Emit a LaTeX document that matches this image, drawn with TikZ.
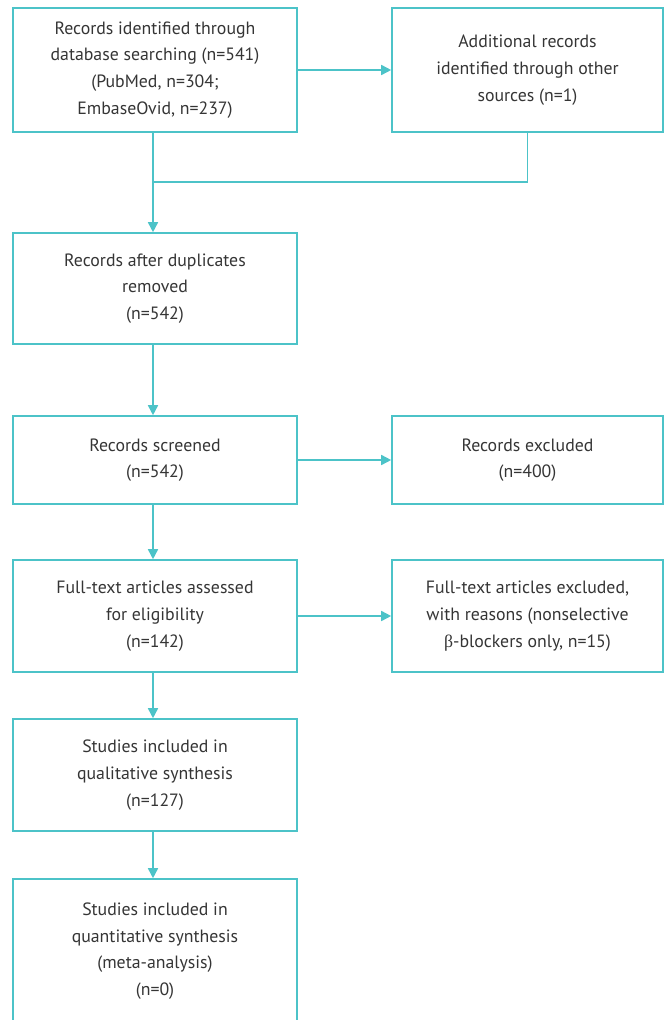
\documentclass[tikz,border=0pt]{standalone}
\usepackage{fontspec}
\setmainfont{PT Sans}
\newfontfamily\greekfont{Liberation Serif}
\usepackage{tikz}
\usetikzlibrary{arrows.meta}
\definecolor{teal}{HTML}{4CC3C8}
\definecolor{txt}{HTML}{353535}

\begin{document}
\begin{tikzpicture}[x=1pt, y=-1pt,
    box/.style={draw=teal, line width=1.6pt, inner sep=0pt, align=center,
        text=txt, font=\fontsize{17.8}{26.7}\selectfont},
    link/.style={draw=teal, line width=1.6pt},
    arr/.style={link, -{Triangle[length=10pt,width=10pt]}}]
            \useasboundingbox (0,0) rectangle (670,1020);
            \clip (0,0) rectangle (670,1020);

            \node[box, minimum width=284, minimum height=124] (db) at (155,70)
                {Records identified through\\database searching (n=541)\\(PubMed, n=304;\\EmbaseOvid, n=237)};
            \node[box, minimum width=271, minimum height=124] (other) at (527.5,70)
                {Additional records\\identified through other\\sources (n=1)};
            \node[box, minimum width=284, minimum height=111] (dup) at (155,288.5)
                {Records after duplicates\\removed\\(n=542)};
            \node[box, minimum width=284, minimum height=88] (screen) at (155,460)
                {Records screened\\(n=542)};
            \node[box, minimum width=271, minimum height=88] (excl) at (527.5,460)
                {Records excluded\\(n=400)};
            \node[box, minimum width=284, minimum height=112] (full) at (155,616)
                {Full-text articles assessed\\for eligibility\\(n=142)};
            \node[box, minimum width=271, minimum height=112] (fullex) at (527.5,616)
                {Full-text articles excluded,\\with reasons (nonselective\\{\greekfont β}-blockers only, n=15)};
            \node[box, minimum width=284, minimum height=112] (qual) at (155,775)
                {Studies included in\\qualitative synthesis\\(n=127)};
            \node[box, minimum width=284, minimum height=144] (quant) at (155,951)
                {Studies included in\\quantitative synthesis\\(meta-analysis)\\(n=0)};
            \coordinate (join) at (153,182);

            \draw[arr] (db) -- (other);
            \draw[link] (other.south) |- (join);
            \draw[arr] (db.south -| join) -- (dup.north -| join);
            \draw[arr] (dup.south -| join) -- (screen.north -| join);
            \draw[arr] (screen) -- (excl);
            \draw[arr] (screen.south -| join) -- (full.north -| join);
            \draw[arr] (full) -- (fullex);
            \draw[arr] (full.south -| join) -- (qual.north -| join);
            \draw[arr] (qual.south -| join) -- (quant.north -| join);
        \end{tikzpicture}
\end{document}
